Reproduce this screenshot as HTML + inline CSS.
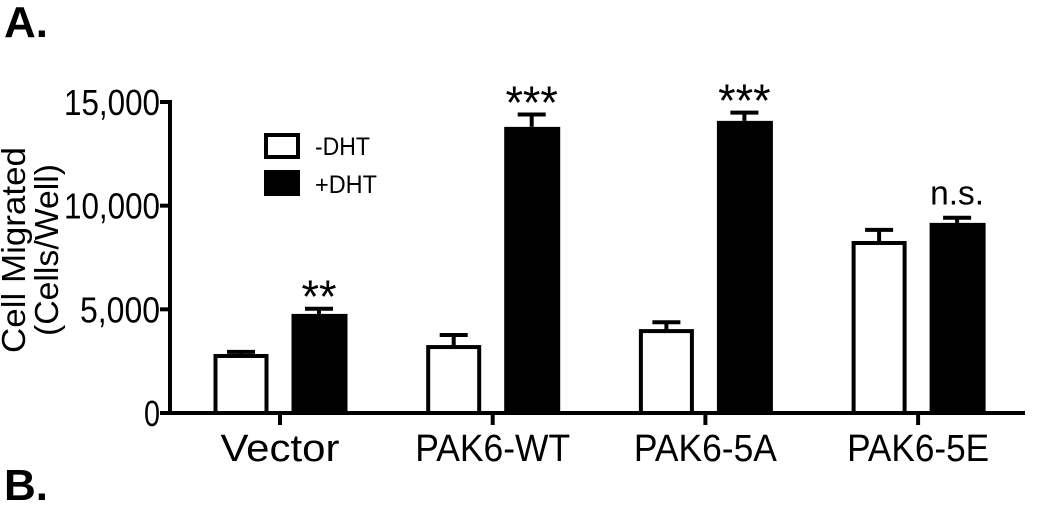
<!DOCTYPE html>
<html><head><meta charset="utf-8"><style>
body{margin:0;background:#fff;}
svg{display:block;font-family:"Liberation Sans",Arial,sans-serif;}
</style></head><body>
<svg id="chart" width="1038" height="507" viewBox="0 0 1038 507">
<text x="4" y="37" font-size="44" font-weight="bold">A.</text>
<text x="4" y="500" font-size="44" font-weight="bold">B.</text>
<g transform="translate(0,250) rotate(-90)">
<text x="0" y="25" font-size="33" text-anchor="middle" textLength="206" lengthAdjust="spacingAndGlyphs">Cell  Migrated</text>
<text x="0" y="58" font-size="33" text-anchor="middle" textLength="172" lengthAdjust="spacingAndGlyphs">(Cells/Well)</text>
</g>
<g id="bars"></g>
<g id="axes"></g>
<g>
<rect x="266" y="135" width="32" height="22" fill="#fff" stroke="#000" stroke-width="4"/>
<text x="315" y="155" font-size="25" textLength="55" lengthAdjust="spacingAndGlyphs">-DHT</text>
<rect x="264" y="170" width="36" height="26" fill="#000"/>
<text x="315" y="193" font-size="25" textLength="62" lengthAdjust="spacingAndGlyphs">+DHT</text>
</g>
</svg>
<script>
const categories=["Vector","PAK6-WT","PAK6-5A","PAK6-5E"];
const minusDHT=[2750,3180,3950,8200];
const minusErr=[200,580,430,630];
const plusDHT=[4780,13800,14090,9170];
const plusErr=[250,600,400,250];
const sigLabels=["**","***","***","n.s."];
const yTicks=[0,5000,10000,15000];
const yTickLabels=["0","5,000","10,000","15,000"];

const NS="http://www.w3.org/2000/svg";
const labelWidth={"Vector":119,"PAK6-WT":155,"PAK6-5A":143,"PAK6-5E":142};
const y0=413,yTop=102,yMax=15000;
function y(v){return y0-(v/yMax)*(y0-yTop);}
function x(i){return 280+i*212.7;}
function mk(tag,attrs,parent){const e=document.createElementNS(NS,tag);for(const k in attrs)e.setAttribute(k,attrs[k]);parent.appendChild(e);return e;}
const bars=document.getElementById('bars'),axes=document.getElementById('axes');
const bw=55,off=39;
categories.forEach((c,i)=>{
  let cx=x(i)-off, t=y(minusDHT[i]), et=y(minusDHT[i]+minusErr[i]);
  let l=mk('line',{x1:cx,x2:cx,y1:t,y2:et,stroke:'#000','stroke-width':4},bars);
  
  
  l=mk('line',{x1:cx-14,x2:cx+14,y1:et,y2:et,stroke:'#000','stroke-width':4},bars);
  
  
  let r=mk('rect',{x:cx-bw/2+2,y:t,width:bw-4,height:y0-t,fill:'#fff',stroke:'#000','stroke-width':4},bars);
  
  
  cx=x(i)+off; t=y(plusDHT[i]); et=y(plusDHT[i]+plusErr[i]);
  l=mk('line',{x1:cx,x2:cx,y1:t,y2:et,stroke:'#000','stroke-width':4},bars);
  
  
  l=mk('line',{x1:cx-14,x2:cx+14,y1:et,y2:et,stroke:'#000','stroke-width':4},bars);
  
  
  r=mk('rect',{x:cx-bw/2,y:t,width:bw+1,height:y0-t,fill:'#000'},bars);
  
  
  const ns=sigLabels[i]==='n.s.';
  const lab=sigLabels[i];
  const s=mk('text',{x:cx,y:ns?et-13:et+4,'font-size':ns?34:46,'text-anchor':'middle',textLength:ns?54:(lab.length*17.5),lengthAdjust:'spacingAndGlyphs'},bars);
  s.textContent=lab;
  
  
  l=mk('line',{x1:x(i),x2:x(i),y1:y0,y2:y0+12,stroke:'#000','stroke-width':4},axes);
  
  
  const tl=mk('text',{x:x(i),y:461,'font-size':38,'text-anchor':'middle',textLength:labelWidth[c]||c.length*20,lengthAdjust:'spacingAndGlyphs'},axes);
  tl.textContent=c;
  
  
});
let ax=mk('line',{x1:170,x2:1025,y1:y0,y2:y0,stroke:'#000','stroke-width':4},axes);


ax=mk('line',{x1:170,x2:170,y1:yTop-2,y2:y0+2,stroke:'#000','stroke-width':4},axes);


yTicks.forEach((v,i)=>{
  const l=mk('line',{x1:160,x2:170,y1:y(v),y2:y(v),stroke:'#000','stroke-width':4},axes);
  
  
  const lbl=yTickLabels[i];
  const t=mk('text',{x:160,y:y(v)+13,'font-size':36,'text-anchor':'end',textLength:lbl.length*16,lengthAdjust:'spacingAndGlyphs'},axes);
  t.textContent=lbl;
  
  
});
</script>
</body></html>
